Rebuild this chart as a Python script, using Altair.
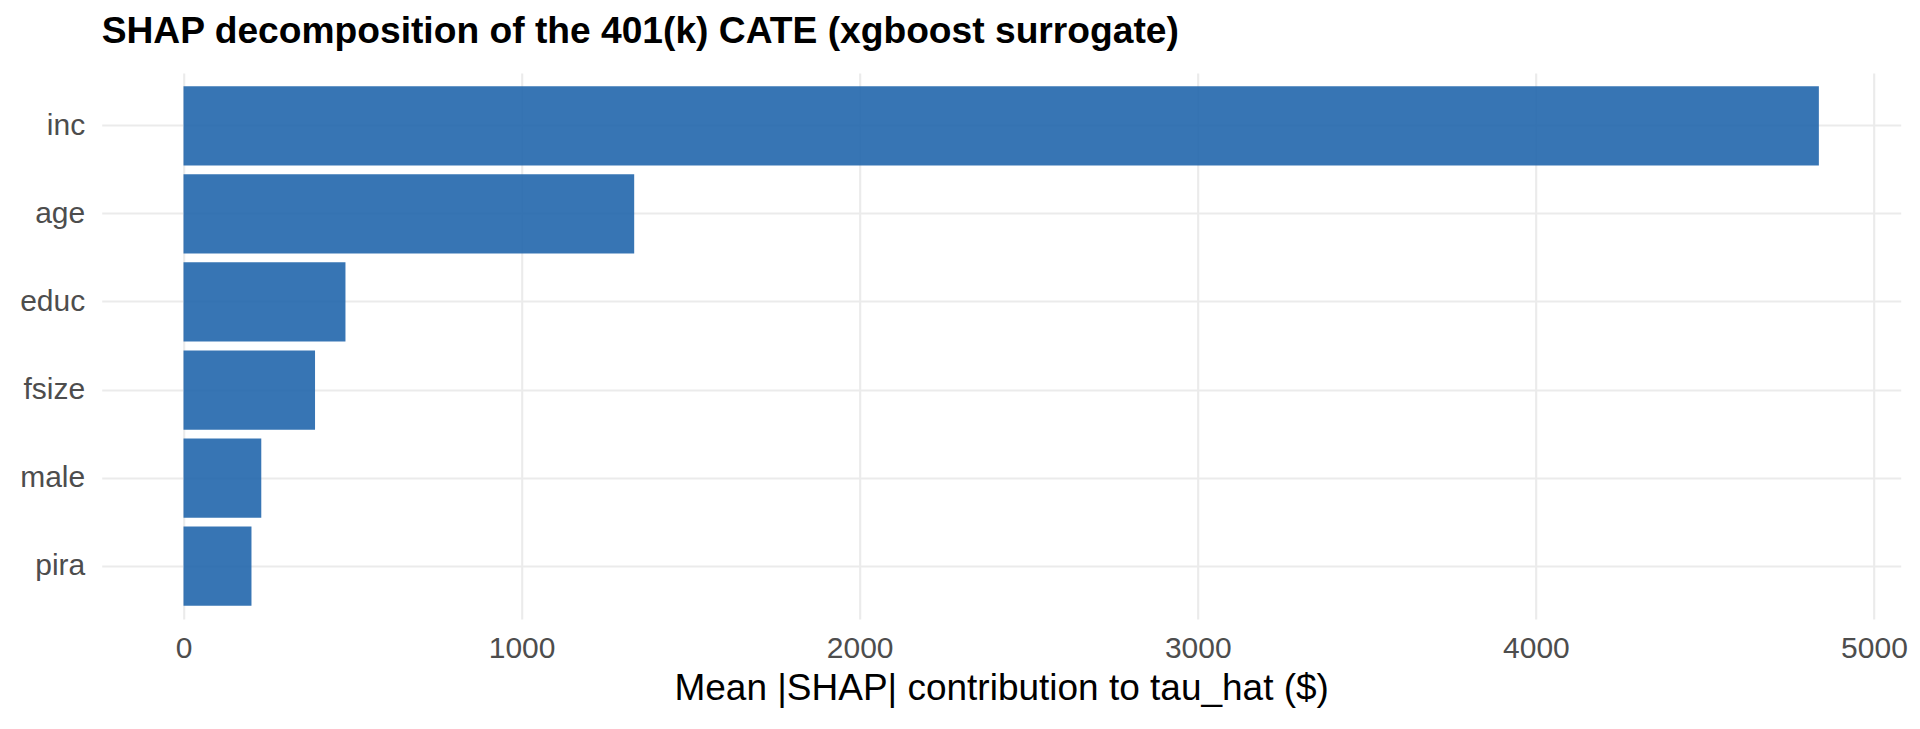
import altair as alt
import pandas as pd

features = ["inc", "age", "educ", "fsize", "male", "pira"]
mean_abs_shap = [4837, 1333, 479, 389, 230, 201]

df = pd.DataFrame({"feature": features, "shap": mean_abs_shap})

FONT = "Liberation Sans"

bars = alt.Chart(df).mark_bar(color="#2166ac", opacity=0.9).encode(
    x=alt.X(
        "shap:Q",
        scale=alt.Scale(domain=[-242, 5079], nice=False, zero=False),
        axis=alt.Axis(
            values=[0, 1000, 2000, 3000, 4000, 5000],
            title="Mean |SHAP| contribution to tau_hat ($)",
            format="d",
            grid=True,
            gridColor="#ebebeb",
            gridWidth=2.1,
            domain=False,
            ticks=False,
            tickSize=0,
            labelFont=FONT,
            labelFontSize=30,
            labelColor="#4d4d4d",
            labelPadding=15,
            titleFont=FONT,
            titleFontSize=37,
            titleFontWeight="normal",
            titleColor="#000000",
            titlePadding=7,
        ),
    ),
    y=alt.Y(
        "feature:N",
        sort=features,
        scale=alt.Scale(paddingInner=0.1, paddingOuter=0.15),
        axis=alt.Axis(
            title=None,
            grid=True,
            gridColor="#ebebeb",
            gridWidth=2.1,
            bandPosition=0.5,
            domain=False,
            ticks=False,
            tickSize=0,
            labelFont=FONT,
            labelFontSize=30,
            labelColor="#4d4d4d",
            labelPadding=17,
        ),
    ),
)

chart = bars.properties(
    width=1799,
    height=546,
    title=alt.TitleParams(
        "SHAP decomposition of the 401(k) CATE (xgboost surrogate)",
        anchor="start",
        frame="group",
        font=FONT,
        fontSize=37.2,
        fontWeight="bold",
        color="#000000",
        baseline="alphabetic",
        offset=27,
        dy=34,
    ),
    autosize=alt.AutoSizeParams(type="none"),
    padding={"left": 93.7, "top": 65, "right": 11, "bottom": 90},
).configure(background="white", view=alt.ViewConfig(stroke="transparent", strokeWidth=0))

chart.save("out.html", embed_options={"renderer": "svg", "actions": False})
